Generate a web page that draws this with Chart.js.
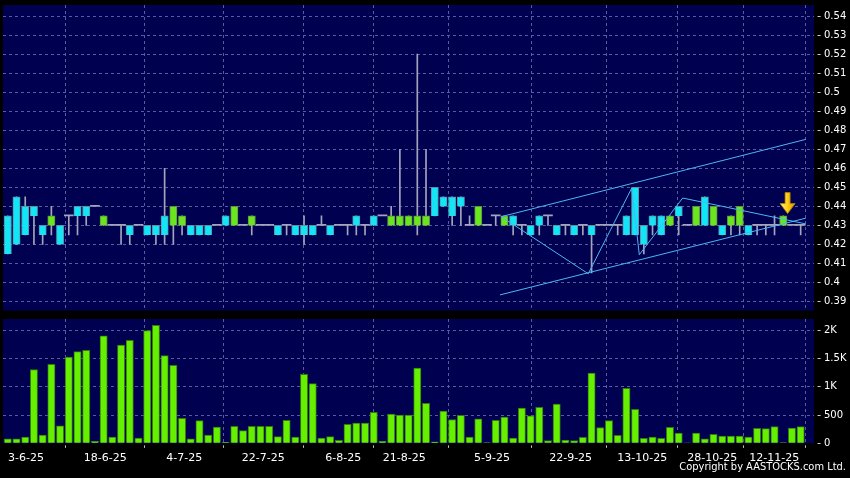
<!DOCTYPE html>
<html>
<head>
<meta charset="utf-8">
<script src="https://cdn.jsdelivr.net/npm/chart.js@4.4.1/dist/chart.umd.min.js"></script>
<style>
  html, body { margin: 0; padding: 0; background: #000; }
  #wrap { position: relative; width: 850px; height: 478px; overflow: hidden; background: #000; }
  #priceChart { position: absolute; left: 0; top: 0; }
  #volChart { position: absolute; left: 0; top: 318px; }
  #copy { position: absolute; right: 4px; top: 460px; color: #fff; line-height: 11px;
          font: 11px "DejaVu Sans Condensed", "DejaVu Sans", sans-serif; white-space: nowrap; }
</style>
</head>
<body>
<div id="wrap">
  <canvas id="priceChart" width="850" height="318"></canvas>
  <canvas id="volChart" width="850" height="160"></canvas>
  <div id="copy">Copyright by AASTOCKS.com Ltd.</div>
</div>
<script>
// daily candles, oldest first (one entry per bar)
const opens = [
  0.435, 0.445, 0.44, 0.44, 0.43, 0.43, 0.43, 0.435, 0.44, 0.44,
  0.44, 0.43, 0.43, 0.43, 0.43, 0.43, 0.43, 0.43, 0.435, 0.43,
  0.43, 0.43, 0.43, 0.43, 0.43, 0.435, 0.43, 0.43, 0.43, 0.43,
  0.43, 0.43, 0.43, 0.43, 0.43, 0.43, 0.43, 0.43, 0.43, 0.43,
  0.435, 0.43, 0.435, 0.435, 0.43, 0.43, 0.43, 0.43, 0.43, 0.45,
  0.445, 0.445, 0.445, 0.43, 0.43, 0.43, 0.435, 0.43, 0.435, 0.43,
  0.43, 0.435, 0.435, 0.43, 0.43, 0.43, 0.43, 0.43, 0.43, 0.43,
  0.43, 0.435, 0.45, 0.43, 0.435, 0.435, 0.43, 0.44, 0.43, 0.43,
  0.445, 0.43, 0.43, 0.43, 0.43, 0.43, 0.43, 0.43, 0.43, 0.43,
  0.43, 0.43
];
const highs = [
  0.435, 0.445, 0.445, 0.44, 0.43, 0.44, 0.43, 0.435, 0.44, 0.44,
  0.44, 0.435, 0.43, 0.43, 0.43, 0.43, 0.43, 0.43, 0.46, 0.44,
  0.435, 0.43, 0.43, 0.43, 0.43, 0.435, 0.44, 0.43, 0.435, 0.43,
  0.43, 0.43, 0.43, 0.43, 0.435, 0.43, 0.435, 0.43, 0.43, 0.43,
  0.435, 0.43, 0.435, 0.435, 0.44, 0.47, 0.435, 0.52, 0.47, 0.45,
  0.445, 0.445, 0.445, 0.435, 0.44, 0.43, 0.435, 0.435, 0.435, 0.43,
  0.43, 0.435, 0.435, 0.43, 0.43, 0.43, 0.43, 0.43, 0.43, 0.43,
  0.43, 0.435, 0.45, 0.43, 0.435, 0.435, 0.435, 0.44, 0.43, 0.44,
  0.445, 0.44, 0.43, 0.435, 0.44, 0.43, 0.43, 0.43, 0.435, 0.435,
  0.43, 0.43
];
const lows = [
  0.415, 0.42, 0.425, 0.42, 0.42, 0.425, 0.42, 0.425, 0.425, 0.43,
  0.44, 0.43, 0.43, 0.42, 0.42, 0.43, 0.425, 0.42, 0.42, 0.42,
  0.425, 0.425, 0.425, 0.425, 0.43, 0.43, 0.43, 0.43, 0.425, 0.43,
  0.43, 0.425, 0.425, 0.425, 0.42, 0.425, 0.43, 0.425, 0.43, 0.425,
  0.425, 0.425, 0.43, 0.435, 0.43, 0.43, 0.43, 0.425, 0.43, 0.435,
  0.44, 0.43, 0.43, 0.43, 0.43, 0.43, 0.43, 0.43, 0.425, 0.425,
  0.425, 0.425, 0.43, 0.425, 0.425, 0.425, 0.425, 0.405, 0.43, 0.43,
  0.425, 0.425, 0.425, 0.415, 0.425, 0.425, 0.43, 0.425, 0.43, 0.43,
  0.43, 0.43, 0.425, 0.425, 0.425, 0.425, 0.425, 0.425, 0.425, 0.43,
  0.43, 0.425
];
const closes = [
  0.415, 0.42, 0.425, 0.435, 0.425, 0.435, 0.42, 0.435, 0.435, 0.435,
  0.44, 0.435, 0.43, 0.43, 0.425, 0.43, 0.425, 0.425, 0.425, 0.44,
  0.435, 0.425, 0.425, 0.425, 0.43, 0.43, 0.44, 0.43, 0.435, 0.43,
  0.43, 0.425, 0.43, 0.425, 0.425, 0.425, 0.43, 0.425, 0.43, 0.43,
  0.43, 0.43, 0.43, 0.435, 0.435, 0.435, 0.435, 0.435, 0.435, 0.435,
  0.44, 0.435, 0.44, 0.43, 0.44, 0.43, 0.435, 0.435, 0.43, 0.43,
  0.425, 0.43, 0.435, 0.425, 0.43, 0.425, 0.43, 0.425, 0.43, 0.43,
  0.43, 0.425, 0.425, 0.42, 0.43, 0.425, 0.435, 0.435, 0.43, 0.44,
  0.43, 0.44, 0.425, 0.435, 0.44, 0.425, 0.43, 0.43, 0.43, 0.435,
  0.43, 0.43
];
// volume in thousands of shares (axis shows K)
const volumes = [
  77, 77, 112, 1304, 147, 1398, 307, 1528, 1622, 1646,
  35, 1900, 112, 1740, 1823, 94, 1994, 2088, 1552, 1380,
  442, 77, 401, 147, 289, 18, 301, 224, 301, 301,
  301, 118, 407, 112, 1221, 1056, 94, 118, 53, 336,
  360, 360, 549, 35, 519, 501, 501, 1333, 708, 24,
  572, 419, 496, 112, 431, 12, 407, 466, 94, 625,
  484, 637, 47, 696, 59, 47, 106, 1245, 277, 401,
  142, 973, 602, 88, 112, 88, 283, 183, 6, 183,
  77, 159, 130, 130, 130, 112, 265, 260, 295, 12,
  271, 295
];

// date labels and where they fall along the bar index
const dateLabels = ['3-6-25', '18-6-25', '4-7-25', '22-7-25', '6-8-25', '21-8-25',
  '5-9-25', '22-9-25', '13-10-25', '28-10-25', '12-11-25'];
const datePos = [2.09, 11.19, 20.26, 29.32, 38.51, 45.51, 55.57, 64.6, 72.82, 80.86, 87.97];

const priceTicks = [0.39, 0.4, 0.41, 0.42, 0.43, 0.44, 0.45, 0.46, 0.47, 0.48, 0.49, 0.5, 0.51, 0.52, 0.53, 0.54];
const volTicks = [0, 500, 1000, 1500, 2000];
const volTickLabels = ['0', '500', '1K', '1.5K', '2K'];

// drawn trend lines (bar index, price)
const channelTop = [{ x: 56.64, y: 0.4346 }, { x: 91.58, y: 0.4752 }];
const channelBottom = [{ x: 56.49, y: 0.3935 }, { x: 91.58, y: 0.4338 }];
const zigzag = [
  { x: 56.64, y: 0.4346 }, { x: 66.62, y: 0.4046 }, { x: 71.61, y: 0.4496 },
  { x: 72.48, y: 0.4146 }, { x: 77.46, y: 0.4444 }, { x: 91.58, y: 0.4308 }
];
// signal arrow tip
const arrowAt = { x: 89.5, y: 0.4362 };

const xMin = -0.551;
const xMax = 92.53;
const gridColor = '#5a5a9e';
const wickColor = '#a4a4bc';
const lineColor = '#4cb6f2';

// fill the plot area navy
const plotBg = {
  id: 'plotBg',
  beforeDraw(chart) {
    const a = chart.chartArea;
    const ctx = chart.ctx;
    ctx.save();
    ctx.fillStyle = '#000050';
    ctx.fillRect(a.left, a.top, a.right - a.left, a.bottom - a.top);
    ctx.restore();
  }
};

// yellow down arrow above the last signal bar
const signalArrow = {
  id: 'signalArrow',
  afterDatasetsDraw(chart) {
    const ctx = chart.ctx;
    const px = chart.scales.x.getPixelForValue(arrowAt.x);
    const py = chart.scales.y.getPixelForValue(arrowAt.y);
    const g = ctx.createLinearGradient(px - 7, 0, px + 7, 0);
    g.addColorStop(0, '#ffe98a');
    g.addColorStop(0.45, '#ffd21a');
    g.addColorStop(1, '#d69a00');
    ctx.save();
    ctx.beginPath();
    ctx.moveTo(px - 2.5, py - 21);
    ctx.lineTo(px + 2.5, py - 21);
    ctx.lineTo(px + 2.5, py - 10);
    ctx.lineTo(px + 7.5, py - 10);
    ctx.lineTo(px, py);
    ctx.lineTo(px - 7.5, py - 10);
    ctx.lineTo(px - 2.5, py - 10);
    ctx.closePath();
    ctx.fillStyle = g;
    ctx.fill();
    ctx.strokeStyle = '#b88400';
    ctx.lineWidth = 0.8;
    ctx.stroke();
    ctx.restore();
  }
};

// split the candles into wicks, flat days and real bodies
const wickData = [];
const flatData = [];
const bodyData = [];
opens.forEach((o, i) => {
  const c = closes[i];
  if (highs[i] > lows[i]) wickData.push({ x: i, y: [lows[i], highs[i]] });
  if (o === c) {
    flatData.push({ x: i, y: [o, c] });
  } else {
    bodyData.push({ x: i, y: [o, c], up: c > o });
  }
});
const volData = volumes.map((v, i) => ({ x: i, y: v }));

function xScale(showLabels) {
  return {
    type: 'linear',
    min: xMin,
    max: xMax,
    offset: false,
    afterBuildTicks: (scale) => { scale.ticks = datePos.map(v => ({ value: v })); },
    afterFit: (scale) => {
      scale.height = showLabels ? 34.7 : 0;
      scale.paddingLeft = 0;
      scale.paddingRight = 0;
    },
    ticks: {
      display: showLabels,
      autoSkip: false,
      maxRotation: 0,
      padding: 3,
      color: '#ffffff',
      font: { family: 'DejaVu Sans', size: 11 },
      callback: (value, index) => dateLabels[index]
    },
    grid: {
      color: gridColor,
      drawTicks: showLabels,
      tickLength: 5,
      tickColor: '#c8c8c8',
      tickBorderDash: [0, 2.4, 2.4, 40]
    },
    border: { display: false, dash: [3, 3] }
  };
}

function yAxisStyle() {
  return {
    position: 'right',
    afterFit: (scale) => {
      scale.width = 36;
      scale.paddingTop = 0;
      scale.paddingBottom = 0;
    },
    grid: {
      color: gridColor,
      tickLength: 7,
      tickColor: '#d0d0d0',
      tickBorderDash: [0, 3.6, 3, 40]
    },
    border: { display: false, dash: [3, 3] },
    ticks: {
      color: '#ffffff',
      padding: 3,
      font: { family: 'DejaVu Sans', size: 10 }
    }
  };
}

const common = {
  responsive: false,
  animation: false,
  events: [],
  plugins: { legend: { display: false }, tooltip: { enabled: false } }
};

// price panel
const priceY = yAxisStyle();
priceY.min = 0.3853;
priceY.max = 0.5458;
priceY.afterBuildTicks = (scale) => { scale.ticks = priceTicks.map(v => ({ value: v })); };
priceY.ticks.callback = (value) => String(Number(value.toFixed(2)));

new Chart(document.getElementById('priceChart'), {
  type: 'bar',
  data: {
    datasets: [
      {
        label: 'wick', data: wickData, grouped: false, order: 4,
        barThickness: 1, backgroundColor: wickColor, borderWidth: 0
      },
      {
        label: 'flat', data: flatData, grouped: false, order: 3,
        barThickness: 9, minBarLength: 1, backgroundColor: wickColor, borderWidth: 0
      },
      {
        label: 'body', data: bodyData, grouped: false, order: 2,
        barThickness: 7.3, borderWidth: 1,
        backgroundColor: (ctx) => ctx.raw && ctx.raw.up ? '#6ae61c' : '#12e6f6',
        borderColor: (ctx) => ctx.raw && ctx.raw.up ? '#5f8f48' : '#5d8fa6'
      },
      { type: 'line', label: 'top', data: channelTop, order: 1, borderColor: lineColor, borderWidth: 1, pointRadius: 0 },
      { type: 'line', label: 'bottom', data: channelBottom, order: 1, borderColor: lineColor, borderWidth: 1, pointRadius: 0 },
      { type: 'line', label: 'zigzag', data: zigzag, order: 1, borderColor: lineColor, borderWidth: 1, pointRadius: 0, tension: 0 }
    ]
  },
  options: Object.assign({}, common, {
    layout: { padding: { left: 3, top: 5, right: 0, bottom: 7.5 } },
    scales: { x: xScale(false), y: priceY }
  }),
  plugins: [plotBg, signalArrow]
});

// volume panel
const volY = yAxisStyle();
volY.min = 0;
volY.max = 2200;
volY.afterBuildTicks = (scale) => { scale.ticks = volTicks.map(v => ({ value: v })); };
volY.ticks.callback = (value, index) => volTickLabels[index];
volY.grid.color = (ctx) => ctx.tick && ctx.tick.value === 0 ? 'rgba(0,0,0,0)' : gridColor;

new Chart(document.getElementById('volChart'), {
  type: 'bar',
  data: {
    datasets: [{
      label: 'volume', data: volData,
      barThickness: 7.3, borderWidth: 1,
      backgroundColor: '#66f000', borderColor: '#2f7a14'
    }]
  },
  options: Object.assign({}, common, {
    layout: { padding: { left: 3, top: 1, right: 0, bottom: 0 } },
    scales: { x: xScale(true), y: volY }
  }),
  plugins: [plotBg]
});
</script>
</body>
</html>
